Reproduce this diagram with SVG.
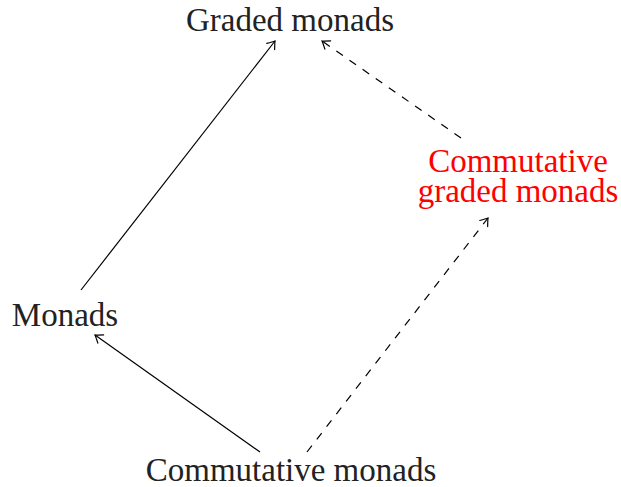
<svg xmlns="http://www.w3.org/2000/svg" width="621" height="487" viewBox="0 0 621 487">
<style>
.lbl{font-family:"Liberation Serif","DejaVu Serif",serif;font-size:33px;fill:#222;text-anchor:middle}
.red{fill:#ff0000}
.edge{stroke:#000;stroke-width:1.2;fill:none}
.dash{stroke-dasharray:8 8}
</style>
<defs>
<marker id="arr" markerUnits="userSpaceOnUse" markerWidth="16" markerHeight="16" viewBox="-10 -8 12 16" refX="0" refY="0" orient="auto">
<path d="M -7 -5 Q -2 -1.2 0 0 Q -2 1.2 -7 5" fill="none" stroke="#000" stroke-width="1.2" stroke-linecap="round"/>
</marker>
</defs>
<g id="connectors">
<line class="edge" x1="81" y1="290" x2="275" y2="41" marker-end="url(#arr)"/>
<line class="edge dash" x1="461" y1="138" x2="322" y2="41" marker-end="url(#arr)"/>
<line class="edge" x1="260" y1="452" x2="95" y2="335" marker-end="url(#arr)"/>
<line class="edge dash" x1="307" y1="452" x2="488" y2="218" marker-end="url(#arr)"/>
</g>
<g id="graded"><text class="lbl" x="290" y="31">Graded monads</text></g>
<g id="monads"><text class="lbl" x="65" y="326">Monads</text></g>
<g id="commgraded"><text class="lbl red" x="518" y="172">Commutative</text><text class="lbl red" x="518" y="202">graded monads</text></g>
<g id="commmonads"><text class="lbl" x="291" y="481">Commutative monads</text></g>
</svg>
